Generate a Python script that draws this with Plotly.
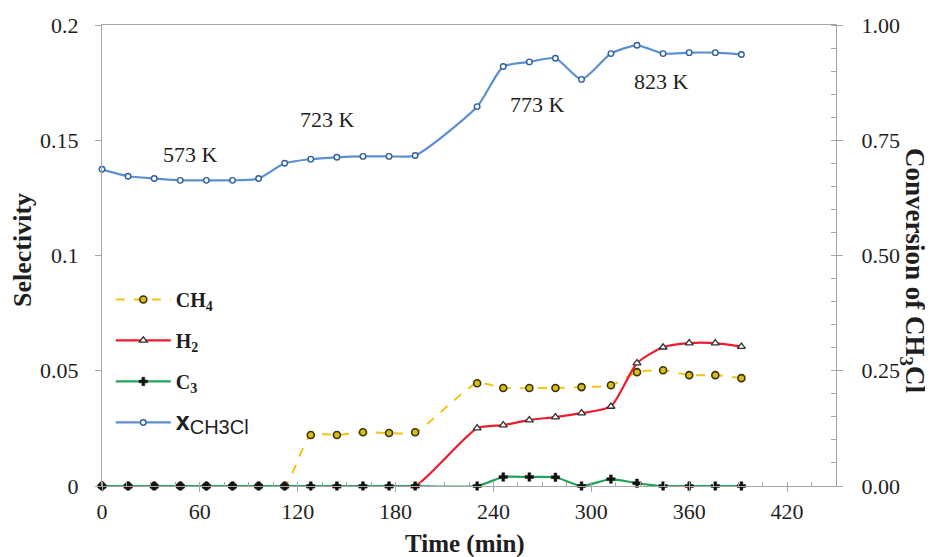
import plotly.graph_objects as go

time_min = [0, 16, 32, 48, 64, 80, 96, 112, 128, 144, 160, 176, 192,
            230, 246, 262, 278, 294, 312, 328, 344, 360, 376, 392]
ch4 = [0, 0, 0, 0, 0, 0, 0, 0, 0.0221, 0.0221, 0.0233, 0.0230, 0.0233,
       0.0446, 0.0425, 0.0425, 0.0425, 0.0429, 0.0437, 0.0494, 0.0502, 0.0481, 0.0481, 0.0468]
h2 = [0, 0, 0, 0, 0, 0, 0, 0, 0, 0, 0, 0, 0,
      0.0251, 0.0264, 0.0286, 0.0299, 0.0316, 0.0345, 0.0533, 0.0602, 0.0620, 0.0620, 0.0605]
c3 = [0, 0, 0, 0, 0, 0, 0, 0, 0, 0, 0, 0, 0,
      0, 0.0039, 0.0039, 0.0038, 0, 0.0030, 0.0012, 0, 0, 0, 0]
x_ch3cl = [0.687, 0.672, 0.667, 0.663, 0.663, 0.663, 0.667, 0.700, 0.709, 0.713, 0.715, 0.715,
           0.717, 0.823, 0.910, 0.920, 0.928, 0.882, 0.938, 0.956, 0.938, 0.940, 0.940, 0.936]

temp_labels = ["573 K", "723 K", "773 K", "823 K"]
temp_label_x = [54, 138, 267, 343]
temp_label_y = [0.1440, 0.159, 0.1655, 0.1755]

serif = "Liberation Serif, Times New Roman, serif"
axis_gray = "#a6a6a6"
txt = "#1e1e1e"

# page has an 8px body margin; figure coords = page coords - 8
OFF = 8
W, H = 933 - OFF, 557 - OFF
PL, PR, PT, PB = 102, 836, 25, 486  # plot area in page pixels

def px_x(p):
    return (p - PL) / (PR - PL)

def px_y(p):
    return (PB - p) / (PB - PT)

fig = go.Figure()

fig.add_trace(go.Scatter(
    x=time_min, y=ch4, name="<b>CH<sub>4</sub></b>", mode="lines+markers",
    line=dict(color="#f2c418", width=2, dash="dash", shape="spline", smoothing=0.6),
    marker=dict(symbol="circle", size=7, color="#d8bd1c", line=dict(color="#3b3200", width=1.6)),
    legendgroup="a", cliponaxis=False))
fig.add_trace(go.Scatter(
    x=time_min, y=h2, name="<b>H<sub>2</sub></b>", mode="lines+markers",
    line=dict(color="#ec1c2c", width=2.2, shape="spline", smoothing=0.6),
    marker=dict(symbol="triangle-up", size=7, color="white", line=dict(color="#303030", width=1.3)),
    legendgroup="b", cliponaxis=False))
fig.add_trace(go.Scatter(
    x=time_min, y=c3, name="<b>C<sub>3</sub></b>", mode="lines+markers",
    line=dict(color="#22a35a", width=2.2, shape="spline", smoothing=0.6),
    marker=dict(symbol="cross", size=7, color="#111111", line=dict(color="#111111", width=0.5)),
    legendgroup="c", cliponaxis=False))
fig.add_trace(go.Scatter(
    x=time_min, y=x_ch3cl, yaxis="y2",
    name="<span style='font-family:Liberation Sans, Arial, sans-serif;font-size:25px'><b>x</b></span>"
         "<sub><span style='font-family:Liberation Sans, Arial, sans-serif;font-size:20px'>CH3Cl</span></sub>",
    mode="lines+markers",
    line=dict(color="#5b8fd2", width=2.2, shape="spline", smoothing=0.6),
    marker=dict(symbol="circle", size=5.5, color="white", line=dict(color="#2f5e9e", width=1.4)),
    legendgroup="d", cliponaxis=False))

for t, xv, yv in zip(temp_labels, temp_label_x, temp_label_y):
    fig.add_annotation(x=xv, y=yv, xref="x", yref="y", text=t, showarrow=False,
                       xanchor="center", yanchor="middle",
                       font=dict(family=serif, size=22, color=txt))

fig.add_annotation(x=px_x(913), y=px_y(270), xref="paper", yref="paper", textangle=90,
                   xanchor="center", yanchor="middle",
                   text="<b>Conversion of CH<sub>3</sub>Cl</b>", showarrow=False,
                   font=dict(family=serif, size=27, color=txt))
fig.add_annotation(x=px_x(22), y=px_y(250), xref="paper", yref="paper", textangle=-90,
                   xanchor="center", yanchor="middle",
                   text="<b>Selectivity</b>", showarrow=False,
                   font=dict(family=serif, size=26, color=txt))
fig.add_annotation(x=px_x(465), y=px_y(544), xref="paper", yref="paper",
                   xanchor="center", yanchor="middle",
                   text="<b>Time (min)</b>", showarrow=False,
                   font=dict(family=serif, size=25, color=txt))

fig.update_layout(
    width=W, height=H,
    margin=dict(l=PL - OFF, r=W - (PR - OFF), t=PT - OFF, b=H - (PB - OFF), autoexpand=False),
    paper_bgcolor="white", plot_bgcolor="white",
    font=dict(family=serif, size=22, color=txt),
    showlegend=True,
    legend=dict(x=0.012, y=0.447, xanchor="left", yanchor="top",
                bgcolor="rgba(0,0,0,0)", font=dict(family=serif, size=20, color=txt),
                tracegroupgap=12, traceorder="grouped", itemwidth=55),
    xaxis=dict(range=[0, 450], tickvals=[0, 60, 120, 180, 240, 300, 360, 420], automargin=False,
               showgrid=False, zeroline=False, showline=True, linecolor=axis_gray, linewidth=1.2,
               mirror=True, ticks="outside", ticklen=5, tickcolor=axis_gray,
               minor=dict(dtick=15, ticks="inside", ticklen=4, tickcolor=axis_gray),
               tickfont=dict(family=serif, size=22, color=txt)),
    yaxis=dict(range=[0, 0.2], tickvals=[0, 0.05, 0.1, 0.15, 0.2], ticktext=["0", "0.05", "0.1", "0.15", "0.2"],
               automargin=False,
               showgrid=False, zeroline=False, showline=True, linecolor=axis_gray, linewidth=1.2,
               ticks="outside", ticklen=6, tickcolor=axis_gray, ticklabelstandoff=12,
               tickfont=dict(family=serif, size=22, color=txt)),
    yaxis2=dict(range=[0, 1], overlaying="y", side="right", automargin=False,
                tickvals=[0, 0.25, 0.5, 0.75, 1.0], tickformat=".2f",
                showgrid=False, zeroline=False, showline=True, linecolor=axis_gray, linewidth=1.2,
                ticks="outside", ticklen=6, tickcolor=axis_gray, ticklabelstandoff=14,
                minor=dict(dtick=0.05, ticks="inside", ticklen=5, tickcolor=axis_gray),
                tickfont=dict(family=serif, size=22, color=txt)),
)

fig.write_html("out.html")
